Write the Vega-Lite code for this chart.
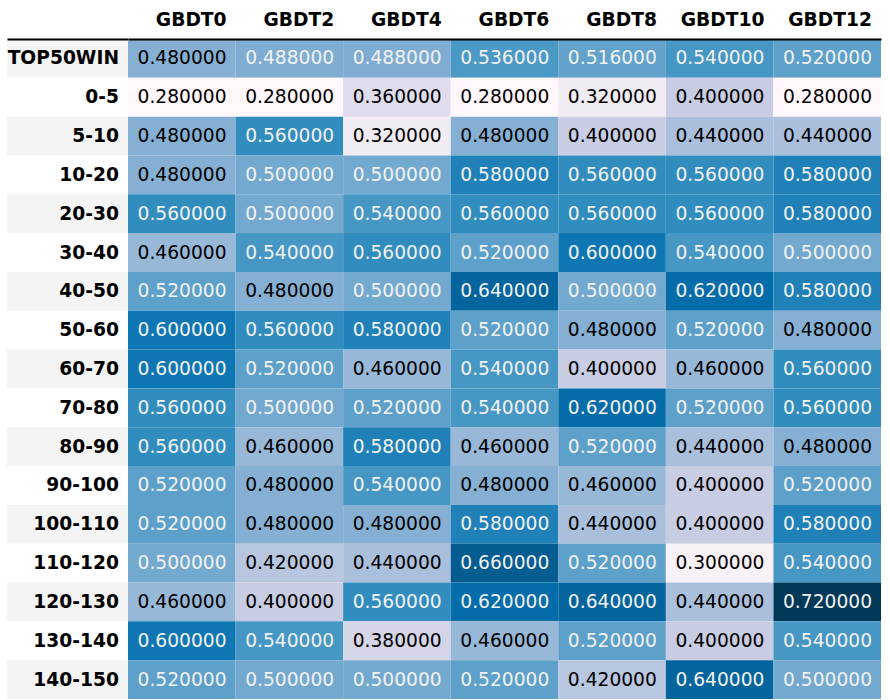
{
  "$schema": "https://vega.github.io/schema/vega-lite/v6.json",
  "background": "white",
  "padding": {"left": 7, "top": 10, "right": 9, "bottom": 0},
  "spacing": 0,
  "config": {"view": {"stroke": null}, "font": "DejaVu Sans", "concat": {"spacing": 0}},
  "data": {"values": [
    {"r":"TOP50WIN","c":"GBDT0","v":0.48},{"r":"TOP50WIN","c":"GBDT2","v":0.488},{"r":"TOP50WIN","c":"GBDT4","v":0.488},{"r":"TOP50WIN","c":"GBDT6","v":0.536},{"r":"TOP50WIN","c":"GBDT8","v":0.516},{"r":"TOP50WIN","c":"GBDT10","v":0.54},{"r":"TOP50WIN","c":"GBDT12","v":0.52},
    {"r":"0-5","c":"GBDT0","v":0.28},{"r":"0-5","c":"GBDT2","v":0.28},{"r":"0-5","c":"GBDT4","v":0.36},{"r":"0-5","c":"GBDT6","v":0.28},{"r":"0-5","c":"GBDT8","v":0.32},{"r":"0-5","c":"GBDT10","v":0.40},{"r":"0-5","c":"GBDT12","v":0.28},
    {"r":"5-10","c":"GBDT0","v":0.48},{"r":"5-10","c":"GBDT2","v":0.56},{"r":"5-10","c":"GBDT4","v":0.32},{"r":"5-10","c":"GBDT6","v":0.48},{"r":"5-10","c":"GBDT8","v":0.40},{"r":"5-10","c":"GBDT10","v":0.44},{"r":"5-10","c":"GBDT12","v":0.44},
    {"r":"10-20","c":"GBDT0","v":0.48},{"r":"10-20","c":"GBDT2","v":0.50},{"r":"10-20","c":"GBDT4","v":0.50},{"r":"10-20","c":"GBDT6","v":0.58},{"r":"10-20","c":"GBDT8","v":0.56},{"r":"10-20","c":"GBDT10","v":0.56},{"r":"10-20","c":"GBDT12","v":0.58},
    {"r":"20-30","c":"GBDT0","v":0.56},{"r":"20-30","c":"GBDT2","v":0.50},{"r":"20-30","c":"GBDT4","v":0.54},{"r":"20-30","c":"GBDT6","v":0.56},{"r":"20-30","c":"GBDT8","v":0.56},{"r":"20-30","c":"GBDT10","v":0.56},{"r":"20-30","c":"GBDT12","v":0.58},
    {"r":"30-40","c":"GBDT0","v":0.46},{"r":"30-40","c":"GBDT2","v":0.54},{"r":"30-40","c":"GBDT4","v":0.56},{"r":"30-40","c":"GBDT6","v":0.52},{"r":"30-40","c":"GBDT8","v":0.60},{"r":"30-40","c":"GBDT10","v":0.54},{"r":"30-40","c":"GBDT12","v":0.50},
    {"r":"40-50","c":"GBDT0","v":0.52},{"r":"40-50","c":"GBDT2","v":0.48},{"r":"40-50","c":"GBDT4","v":0.50},{"r":"40-50","c":"GBDT6","v":0.64},{"r":"40-50","c":"GBDT8","v":0.50},{"r":"40-50","c":"GBDT10","v":0.62},{"r":"40-50","c":"GBDT12","v":0.58},
    {"r":"50-60","c":"GBDT0","v":0.60},{"r":"50-60","c":"GBDT2","v":0.56},{"r":"50-60","c":"GBDT4","v":0.58},{"r":"50-60","c":"GBDT6","v":0.52},{"r":"50-60","c":"GBDT8","v":0.48},{"r":"50-60","c":"GBDT10","v":0.52},{"r":"50-60","c":"GBDT12","v":0.48},
    {"r":"60-70","c":"GBDT0","v":0.60},{"r":"60-70","c":"GBDT2","v":0.52},{"r":"60-70","c":"GBDT4","v":0.46},{"r":"60-70","c":"GBDT6","v":0.54},{"r":"60-70","c":"GBDT8","v":0.40},{"r":"60-70","c":"GBDT10","v":0.46},{"r":"60-70","c":"GBDT12","v":0.56},
    {"r":"70-80","c":"GBDT0","v":0.56},{"r":"70-80","c":"GBDT2","v":0.50},{"r":"70-80","c":"GBDT4","v":0.52},{"r":"70-80","c":"GBDT6","v":0.54},{"r":"70-80","c":"GBDT8","v":0.62},{"r":"70-80","c":"GBDT10","v":0.52},{"r":"70-80","c":"GBDT12","v":0.56},
    {"r":"80-90","c":"GBDT0","v":0.56},{"r":"80-90","c":"GBDT2","v":0.46},{"r":"80-90","c":"GBDT4","v":0.58},{"r":"80-90","c":"GBDT6","v":0.46},{"r":"80-90","c":"GBDT8","v":0.52},{"r":"80-90","c":"GBDT10","v":0.44},{"r":"80-90","c":"GBDT12","v":0.48},
    {"r":"90-100","c":"GBDT0","v":0.52},{"r":"90-100","c":"GBDT2","v":0.48},{"r":"90-100","c":"GBDT4","v":0.54},{"r":"90-100","c":"GBDT6","v":0.48},{"r":"90-100","c":"GBDT8","v":0.46},{"r":"90-100","c":"GBDT10","v":0.40},{"r":"90-100","c":"GBDT12","v":0.52},
    {"r":"100-110","c":"GBDT0","v":0.52},{"r":"100-110","c":"GBDT2","v":0.48},{"r":"100-110","c":"GBDT4","v":0.48},{"r":"100-110","c":"GBDT6","v":0.58},{"r":"100-110","c":"GBDT8","v":0.44},{"r":"100-110","c":"GBDT10","v":0.40},{"r":"100-110","c":"GBDT12","v":0.58},
    {"r":"110-120","c":"GBDT0","v":0.50},{"r":"110-120","c":"GBDT2","v":0.42},{"r":"110-120","c":"GBDT4","v":0.44},{"r":"110-120","c":"GBDT6","v":0.66},{"r":"110-120","c":"GBDT8","v":0.52},{"r":"110-120","c":"GBDT10","v":0.30},{"r":"110-120","c":"GBDT12","v":0.54},
    {"r":"120-130","c":"GBDT0","v":0.46},{"r":"120-130","c":"GBDT2","v":0.40},{"r":"120-130","c":"GBDT4","v":0.56},{"r":"120-130","c":"GBDT6","v":0.62},{"r":"120-130","c":"GBDT8","v":0.64},{"r":"120-130","c":"GBDT10","v":0.44},{"r":"120-130","c":"GBDT12","v":0.72},
    {"r":"130-140","c":"GBDT0","v":0.60},{"r":"130-140","c":"GBDT2","v":0.54},{"r":"130-140","c":"GBDT4","v":0.38},{"r":"130-140","c":"GBDT6","v":0.46},{"r":"130-140","c":"GBDT8","v":0.52},{"r":"130-140","c":"GBDT10","v":0.40},{"r":"130-140","c":"GBDT12","v":0.54},
    {"r":"140-150","c":"GBDT0","v":0.52},{"r":"140-150","c":"GBDT2","v":0.50},{"r":"140-150","c":"GBDT4","v":0.50},{"r":"140-150","c":"GBDT6","v":0.52},{"r":"140-150","c":"GBDT8","v":0.42},{"r":"140-150","c":"GBDT10","v":0.64},{"r":"140-150","c":"GBDT12","v":0.50}
  ]},
  "hconcat": [
    {
      "width": 121,
      "height": 660,
      "transform": [{"filter": "datum.c === 'GBDT0'"}],
      "encoding": {
        "x": {"datum": "", "type": "nominal", "scale": {"paddingInner": 0, "paddingOuter": 0},
              "axis": {"orient": "top", "labels": false, "ticks": false, "tickSize": 0, "domain": true, "domainColor": "black", "domainWidth": 2, "title": null}},
        "y": {"field": "r", "type": "nominal",
              "sort": ["TOP50WIN","0-5","5-10","10-20","20-30","30-40","40-50","50-60","60-70","70-80","80-90","90-100","100-110","110-120","120-130","130-140","140-150"],
              "scale": {"paddingInner": 0, "paddingOuter": 0}, "axis": null}
      },
      "layer": [
        {"mark": {"type": "rect"},
         "encoding": {"fill": {"field": "r", "type": "nominal",
            "scale": {"domain": ["TOP50WIN","0-5","5-10","10-20","20-30","30-40","40-50","50-60","60-70","70-80","80-90","90-100","100-110","110-120","120-130","130-140","140-150"],
                      "range": ["#f4f4f4","#ffffff","#f4f4f4","#ffffff","#f4f4f4","#ffffff","#f4f4f4","#ffffff","#f4f4f4","#ffffff","#f4f4f4","#ffffff","#f4f4f4","#ffffff","#f4f4f4","#ffffff","#f4f4f4"]},
            "legend": null}}},
        {"mark": {"type": "text", "align": "right", "dx": 51.5, "fontWeight": "bold", "fontSize": 18.67, "color": "black"},
         "encoding": {"text": {"field": "r"}}}
      ]
    },
    {
      "width": 753,
      "height": 660,
      "encoding": {
        "x": {"field": "c", "type": "nominal", "sort": ["GBDT0","GBDT2","GBDT4","GBDT6","GBDT8","GBDT10","GBDT12"],
              "scale": {"paddingInner": 0, "paddingOuter": 0},
              "axis": {"orient": "top", "ticks": false, "tickSize": 0, "domain": true, "domainColor": "black", "domainWidth": 2,
                       "labelAngle": 0, "labelFontWeight": "bold", "labelFontSize": 18.67, "labelColor": "black",
                       "labelAlign": "right", "labelOffset": 44.8, "labelPadding": 20, "labelBaseline": "middle",
                       "labelOverlap": false, "title": null}},
        "y": {"field": "r", "type": "nominal",
              "sort": ["TOP50WIN","0-5","5-10","10-20","20-30","30-40","40-50","50-60","60-70","70-80","80-90","90-100","100-110","110-120","120-130","130-140","140-150"],
              "scale": {"paddingInner": 0, "paddingOuter": 0}, "axis": null}
      },
      "layer": [
        {"mark": {"type": "rect"},
         "encoding": {"fill": {"field": "v", "type": "quantitative",
            "scale": {"type": "linear", "domain": [0.28, 0.335, 0.39, 0.445, 0.5, 0.555, 0.61, 0.665, 0.72],
                      "range": ["#fff7fb","#ece7f2","#d0d1e6","#a6bddb","#74a9cf","#3690c0","#0570b0","#045a8d","#023858"],
                      "interpolate": "rgb"},
            "legend": null}}},
        {"mark": {"type": "text", "align": "right", "dx": 44.8, "fontSize": 18.67},
         "encoding": {
           "text": {"field": "v", "type": "quantitative", "format": ".6f"},
           "color": {"condition": {"test": "datum.v > 0.484", "value": "#f1f1f1"}, "value": "black"}
         }}
      ]
    }
  ]
}
